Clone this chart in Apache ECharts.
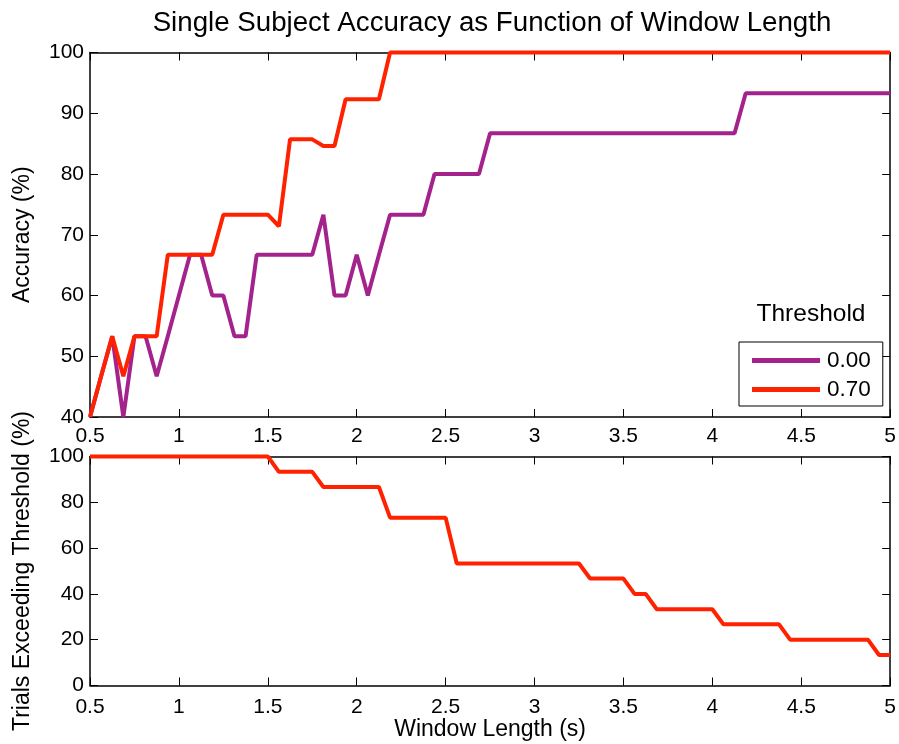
<!DOCTYPE html>
<html>
<head>
<meta charset="utf-8">
<script src="https://cdn.jsdelivr.net/npm/echarts@6/dist/echarts.min.js"></script>
<style>
html,body{margin:0;padding:0;background:#fff;}
#chart{width:899px;height:744px;}
</style>
</head>
<body>
<div id="chart"></div>
<script>
// Window lengths (s), sampled every 1/16 s
var windowLength = [
  0.5, 0.5625, 0.625, 0.6875, 0.75, 0.8125, 0.875, 0.9375,
  1.0, 1.0625, 1.125, 1.1875, 1.25, 1.3125, 1.375, 1.4375,
  1.5, 1.5625, 1.625, 1.6875, 1.75, 1.8125, 1.875, 1.9375,
  2.0, 2.0625, 2.125, 2.1875, 2.25, 2.3125, 2.375, 2.4375,
  2.5, 2.5625, 2.625, 2.6875, 2.75, 2.8125, 2.875, 2.9375,
  3.0, 3.0625, 3.125, 3.1875, 3.25, 3.3125, 3.375, 3.4375,
  3.5, 3.5625, 3.625, 3.6875, 3.75, 3.8125, 3.875, 3.9375,
  4.0, 4.0625, 4.125, 4.1875, 4.25, 4.3125, 4.375, 4.4375,
  4.5, 4.5625, 4.625, 4.6875, 4.75, 4.8125, 4.875, 4.9375,
  5.0
];

// Accuracy (%) with threshold 0.00
var accuracyThr000 = [
  40, 46.7, 53.3, 40, 53.3, 53.3, 46.7, 53.3,
  60, 66.7, 66.7, 60, 60, 53.3, 53.3, 66.7,
  66.7, 66.7, 66.7, 66.7, 66.7, 73.3, 60, 60,
  66.7, 60, 66.7, 73.3, 73.3, 73.3, 73.3, 80,
  80, 80, 80, 80, 86.7, 86.7, 86.7, 86.7,
  86.7, 86.7, 86.7, 86.7, 86.7, 86.7, 86.7, 86.7,
  86.7, 86.7, 86.7, 86.7, 86.7, 86.7, 86.7, 86.7,
  86.7, 86.7, 86.7, 93.3, 93.3, 93.3, 93.3, 93.3,
  93.3, 93.3, 93.3, 93.3, 93.3, 93.3, 93.3, 93.3,
  93.3
];

// Accuracy (%) with threshold 0.70
var accuracyThr070 = [
  40, 46.7, 53.3, 46.7, 53.3, 53.3, 53.3, 66.7,
  66.7, 66.7, 66.7, 66.7, 73.3, 73.3, 73.3, 73.3,
  73.3, 71.4, 85.7, 85.7, 85.7, 84.6, 84.6, 92.3,
  92.3, 92.3, 92.3, 100, 100, 100, 100, 100,
  100, 100, 100, 100, 100, 100, 100, 100,
  100, 100, 100, 100, 100, 100, 100, 100,
  100, 100, 100, 100, 100, 100, 100, 100,
  100, 100, 100, 100, 100, 100, 100, 100,
  100, 100, 100, 100, 100, 100, 100, 100,
  100
];

// Trials exceeding threshold 0.70 (%)
var trialsExceeding = [
  100, 100, 100, 100, 100, 100, 100, 100,
  100, 100, 100, 100, 100, 100, 100, 100,
  100, 93.3, 93.3, 93.3, 93.3, 86.7, 86.7, 86.7,
  86.7, 86.7, 86.7, 73.3, 73.3, 73.3, 73.3, 73.3,
  73.3, 53.3, 53.3, 53.3, 53.3, 53.3, 53.3, 53.3,
  53.3, 53.3, 53.3, 53.3, 53.3, 46.7, 46.7, 46.7,
  46.7, 40, 40, 33.3, 33.3, 33.3, 33.3, 33.3,
  33.3, 26.7, 26.7, 26.7, 26.7, 26.7, 26.7, 20,
  20, 20, 20, 20, 20, 20, 20, 13.3,
  13.3
];

var legendNames = ['0.00', '0.70'];
var titleText = 'Single Subject Accuracy as Function of Window Length';
var legendTitle = 'Threshold';
var xName = 'Window Length (s)';
var yNameTop = 'Accuracy (%)';
var yNameBottom = 'Trials Exceeding Threshold (%)';

function pairs(xs, ys) {
  return xs.map(function (x, i) { return [x, ys[i]]; });
}

var FONT = 'Liberation Sans, Arial, Helvetica, sans-serif';
var PURPLE = '#a3228b';
var RED = '#ff2200';

function xAx(gridIndex, pos, show, margin) {
  return {
    type: 'value', gridIndex: gridIndex, position: pos,
    min: 0.5, max: 5, interval: 0.5,
    axisLine: { show: true, onZero: false, lineStyle: { color: '#000', width: 1.5 } },
    axisTick: { show: true, inside: true, length: 8, lineStyle: { color: '#000', width: 1 } },
    axisLabel: { show: show, color: '#000', fontSize: 21, fontFamily: FONT, margin: margin },
    splitLine: { show: false }
  };
}
function yAx(gridIndex, pos, show, min, max, interval) {
  return {
    type: 'value', gridIndex: gridIndex, position: pos,
    min: min, max: max, interval: interval,
    axisLine: { show: true, onZero: false, lineStyle: { color: '#000', width: 1.5 } },
    axisTick: { show: true, inside: true, length: 8, lineStyle: { color: '#000', width: 1 } },
    axisLabel: { show: show, color: '#000', fontSize: 21, fontFamily: FONT, margin: 6 },
    splitLine: { show: false }
  };
}

var xAxes = [xAx(0, 'bottom', true, 9), xAx(0, 'top', false, 9), xAx(1, 'bottom', true, 11), xAx(1, 'top', false, 9)];
xAxes[2].name = xName;
xAxes[2].nameLocation = 'middle';
xAxes[2].nameGap = 33;
xAxes[2].nameTextStyle = { color: '#000', fontSize: 23, fontFamily: FONT };

var yAxes = [yAx(0, 'left', true, 40, 100, 10), yAx(0, 'right', false, 40, 100, 10),
             yAx(1, 'left', true, 0, 100, 20), yAx(1, 'right', false, 0, 100, 20)];
yAxes[0].name = yNameTop;
yAxes[0].nameLocation = 'middle';
yAxes[0].nameGap = 56;
yAxes[0].nameTextStyle = { color: '#000', fontSize: 23, fontFamily: FONT };
yAxes[2].name = yNameBottom;
yAxes[2].nameLocation = 'middle';
yAxes[2].nameGap = 56;
yAxes[2].nameTextStyle = { color: '#000', fontSize: 23, fontFamily: FONT };

var chart = echarts.init(document.getElementById('chart'), null, { renderer: 'canvas' });
chart.setOption({
  animation: false,
  backgroundColor: '#fff',
  title: [
    { text: titleText, left: 487, textAlign: 'center', top: 4,
      textStyle: { color: '#000', fontSize: 27.7, fontWeight: 'normal', fontFamily: FONT } },
    { text: legendTitle, left: 806, textAlign: 'center', top: 297,
      textStyle: { color: '#000', fontSize: 24.5, fontWeight: 'normal', fontFamily: FONT } }
  ],
  legend: {
    data: legendNames.map(function (n) { return { name: n, icon: 'rect' }; }),
    orient: 'vertical',
    left: 739, top: 342,
    padding: [7, 12, 5, 13],
    itemGap: 6,
    itemWidth: 68, itemHeight: 5,
    borderColor: '#000', borderWidth: 1,
    backgroundColor: '#fff',
    textStyle: { color: '#000', fontSize: 22.5, fontFamily: FONT, padding: [0, 0, 0, 2] },
    selectedMode: false
  },
  grid: [
    { left: 90, right: 7, top: 52.5, height: 364.5 },
    { left: 90, right: 7, top: 456.5, height: 229 }
  ],
  xAxis: xAxes,
  yAxis: yAxes,
  series: [
    { name: legendNames[0], type: 'line', xAxisIndex: 0, yAxisIndex: 0,
      data: pairs(windowLength, accuracyThr000), symbol: 'none', clip: false,
      lineStyle: { color: PURPLE, width: 4 }, itemStyle: { color: PURPLE }, z: 2 },
    { name: legendNames[1], type: 'line', xAxisIndex: 0, yAxisIndex: 0,
      data: pairs(windowLength, accuracyThr070), symbol: 'none', clip: false,
      lineStyle: { color: RED, width: 4 }, itemStyle: { color: RED }, z: 3 },
    { name: 'Trials exceeding 0.70', type: 'line', xAxisIndex: 2, yAxisIndex: 2,
      data: pairs(windowLength, trialsExceeding), symbol: 'none', clip: false,
      lineStyle: { color: RED, width: 4 }, itemStyle: { color: RED }, z: 3 }
  ]
});
</script>
</body>
</html>
